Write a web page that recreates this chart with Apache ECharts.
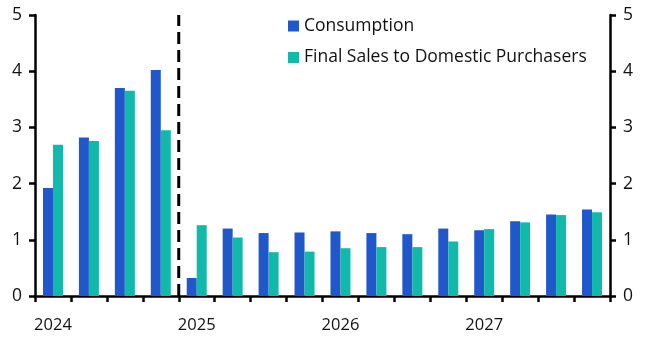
<!DOCTYPE html>
<html><head><meta charset="utf-8">
<script src="https://cdn.jsdelivr.net/npm/echarts@6/dist/echarts.min.js"></script>
<style>html,body{margin:0;padding:0;background:#fff}#c{width:646px;height:355px}</style>
</head><body><div id="c"></div>
<script>
const categories = ["2024 Q1","2024 Q2","2024 Q3","2024 Q4","2025 Q1","2025 Q2","2025 Q3","2025 Q4","2026 Q1","2026 Q2","2026 Q3","2026 Q4","2027 Q1","2027 Q2","2027 Q3","2027 Q4"];
const consumption = [1.92,2.82,3.70,4.02,0.32,1.20,1.12,1.13,1.15,1.12,1.10,1.20,1.17,1.33,1.45,1.54];
const finalSales = [2.69,2.76,3.65,2.95,1.26,1.04,0.78,0.79,0.85,0.87,0.87,0.97,1.19,1.31,1.44,1.49];
const yTicks = [0,1,2,3,4,5];
const forecastStart = 4;

const font = "'Open Sans', 'Noto Sans', sans-serif";
const axisLine = {show:true, lineStyle:{color:'#000', width:2.5}};
const chart = echarts.init(document.getElementById('c'));
chart.setOption({
  animation:false,
  textStyle:{fontFamily:font},
  grid:{left:35, right:36, top:15, bottom:59, containLabel:false},
  legend:{
    orient:'vertical', left:283, top:12, itemWidth:11, itemHeight:11, itemGap:13.5,
    icon:'rect', textStyle:{fontSize:17.5, color:'#111', fontFamily:font},
    data:['Consumption','Final Sales to Domestic Purchasers']
  },
  xAxis:[{
    type:'category', data:categories, boundaryGap:true,
    axisLine:axisLine,
    axisTick:{show:true, interval:0, length:6, inside:false, lineStyle:{color:'#000', width:2.5}},
    axisLabel:{interval:0, margin:21, fontSize:16.5, color:'#111', fontFamily:font,
      formatter:(v)=> v.endsWith('Q1') ? v.slice(0,4) : ''}
  },{
    type:'value', min:0, max:categories.length, show:false
  }],
  yAxis:[{
    type:'value', min:yTicks[0], max:yTicks[yTicks.length-1], interval:1, position:'left',
    axisLine:axisLine, splitLine:{show:false},
    axisTick:{show:true, length:6, lineStyle:{color:'#000', width:2.5}},
    axisLabel:{fontSize:17.5, color:'#111', margin:13, fontFamily:font}
  },{
    type:'value', min:yTicks[0], max:yTicks[yTicks.length-1], interval:1, position:'right',
    axisLine:axisLine, splitLine:{show:false},
    axisTick:{show:true, length:6, lineStyle:{color:'#000', width:2.5}},
    axisLabel:{fontSize:17.5, color:'#111', margin:13, fontFamily:font}
  }],
  series:[
    {name:'Consumption', type:'bar', data:consumption, barWidth:10, barGap:'0%',
     itemStyle:{color:'#2058CC'}},
    {name:'Final Sales to Domestic Purchasers', type:'bar', data:finalSales, barWidth:10, barGap:'0%',
     itemStyle:{color:'#10B9AA'}},
    {type:'line', xAxisIndex:1, yAxisIndex:0, data:[[forecastStart,0],[forecastStart,5]],
     symbol:'none', lineStyle:{color:'#000', width:3, type:[12,6]}, z:5, silent:true}
  ]
});
</script></body></html>
